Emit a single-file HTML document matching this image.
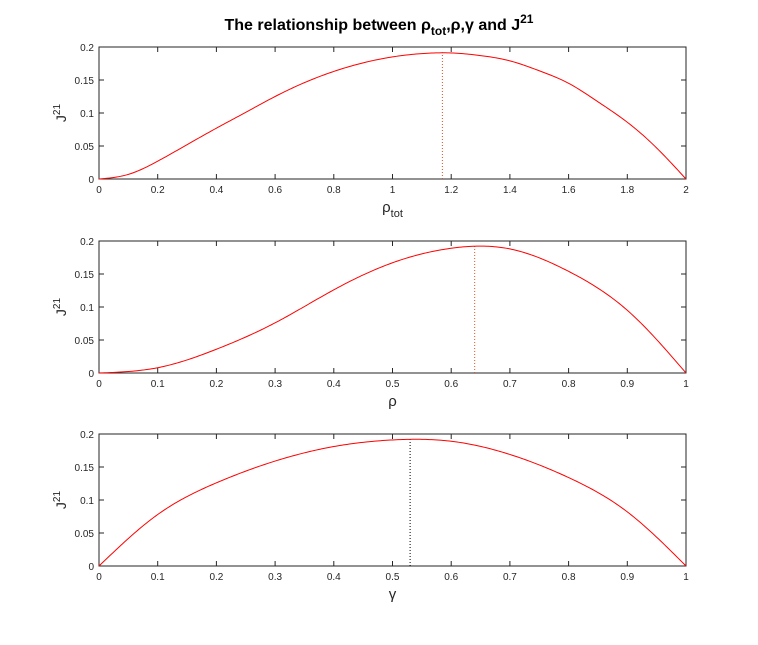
<!DOCTYPE html>
<html><head><meta charset="utf-8"><style>
body{margin:0;background:#fff;}
svg{display:block;font-family:"Liberation Sans",sans-serif;}
</style></head><body>
<svg id="chart" width="758" height="645">
<rect width="758" height="645" fill="#fff"/>
<text x="379" y="30" text-anchor="middle" font-size="16" font-weight="bold">The relationship between ρ<tspan font-size="12" dy="5">tot</tspan><tspan dy="-5">,ρ,γ and J</tspan><tspan font-size="12" dy="-7">21</tspan></text>
</svg>
<script>
const x1 = [0,0.1,0.2,0.3,0.4,0.5,0.6,0.7,0.8,0.9,1.0,1.1,1.2,1.3,1.4,1.5,1.6,1.7,1.8,1.9,2.0];
const y1 = [0,0.007,0.027,0.052,0.077,0.101,0.125,0.146,0.163,0.176,0.185,0.190,0.191,0.187,0.179,0.164,0.145,0.117,0.086,0.047,0];
const x2 = [0,0.1,0.2,0.3,0.4,0.5,0.6,0.7,0.8,0.9,1.0];
const y2 = [0,0.008,0.036,0.076,0.126,0.167,0.189,0.188,0.154,0.095,0];
const x3 = [0,0.1,0.2,0.3,0.4,0.5,0.6,0.7,0.8,0.9,1.0];
const y3 = [0,0.078,0.126,0.159,0.181,0.191,0.189,0.169,0.134,0.082,0];
const peaks = [1.17,0.64,0.53];
const peakVals = [0.192,0.192,0.192];
const yTicks = [0,0.05,0.1,0.15,0.2];
const xTicks1 = [0,0.2,0.4,0.6,0.8,1,1.2,1.4,1.6,1.8,2];
const xTicks2 = [0,0.1,0.2,0.3,0.4,0.5,0.6,0.7,0.8,0.9,1];

const svg = document.getElementById('chart');
const NS = 'http://www.w3.org/2000/svg';
function mk(tag, attrs, parent){const e=document.createElementNS(NS,tag);for(const k in attrs)e.setAttribute(k,attrs[k]);(parent||svg).appendChild(e);return e;}

// natural cubic spline evaluated densely
function spline(xs, ys){
  const n=xs.length, h=[], a=new Array(n).fill(0), b=new Array(n).fill(0), c=new Array(n).fill(0), r=new Array(n).fill(0), M=new Array(n).fill(0);
  for(let i=0;i<n-1;i++) h.push(xs[i+1]-xs[i]);
  for(let i=1;i<n-1;i++){a[i]=h[i-1];b[i]=2*(h[i-1]+h[i]);c[i]=h[i];r[i]=6*((ys[i+1]-ys[i])/h[i]-(ys[i]-ys[i-1])/h[i-1]);}
  // Thomas
  const cp=new Array(n).fill(0), rp=new Array(n).fill(0);
  for(let i=1;i<n-1;i++){const den=b[i]-a[i]*cp[i-1];cp[i]=c[i]/den;rp[i]=(r[i]-a[i]*rp[i-1])/den;}
  for(let i=n-2;i>=1;i--) M[i]=rp[i]-cp[i]*M[i+1];
  return x=>{
    let i=0; while(i<n-2 && x>xs[i+1]) i++;
    const t=x-xs[i], u=xs[i+1]-x, hi=h[i];
    return M[i]*u*u*u/(6*hi)+M[i+1]*t*t*t/(6*hi)+(ys[i]/hi-M[i]*hi/6)*u+(ys[i+1]/hi-M[i+1]*hi/6)*t;
  };
}

const panels = [
 {xs:x1, ys:y1, xmax:2, ticks:xTicks1, top:47, label:'ρ', sub:'tot', name:'rho-tot', peakColor:'#e05020'},
 {xs:x2, ys:y2, xmax:1, ticks:xTicks2, top:241, label:'ρ', sub:'', name:'rho', peakColor:'#e05020'},
 {xs:x3, ys:y3, xmax:1, ticks:xTicks2, top:434, label:'γ', sub:'', name:'gamma', peakColor:'#000'}
];
const L=99, R=686, H=132;
panels.forEach((p,i)=>{
  const g = mk('g',{});
  
  
  const bottom = p.top+H;
  const sx = v => L + v/p.xmax*(R-L);
  const sy = v => bottom - v/0.2*H;
  mk('rect',{x:L,y:p.top,width:R-L,height:H,fill:'#fff',stroke:'#262626','stroke-width':1},g);
  yTicks.forEach(t=>{
    const y=sy(t);
    mk('line',{x1:L,x2:L+5,y1:y,y2:y,stroke:'#262626'},g);
    mk('line',{x1:R,x2:R-5,y1:y,y2:y,stroke:'#262626'},g);
    const tx=mk('text',{x:L-5,y:y+4,'text-anchor':'end','font-size':10,fill:'#262626'},g);
    tx.textContent=t;
    
    
  });
  p.ticks.forEach(t=>{
    const x=sx(t);
    mk('line',{x1:x,x2:x,y1:bottom,y2:bottom-5,stroke:'#262626'},g);
    mk('line',{x1:x,x2:x,y1:p.top,y2:p.top+5,stroke:'#262626'},g);
    const tx=mk('text',{x:x,y:bottom+14,'text-anchor':'middle','font-size':10,fill:'#262626'},g);
    tx.textContent=t;
    
    
  });
  const yl=mk('text',{transform:`translate(${L-33},${p.top+H/2}) rotate(-90)`,'text-anchor':'middle','font-size':14,fill:'#262626'},g);
  yl.innerHTML='J<tspan font-size="10" dy="-6">21</tspan>';
  
  
  const xl=mk('text',{x:(L+R)/2,y:bottom+33,'text-anchor':'middle','font-size':15,fill:'#262626'},g);
  xl.innerHTML=p.sub? p.label+'<tspan font-size="11" dy="5">'+p.sub+'</tspan>' : p.label;
  
  
  const f=spline(p.xs,p.ys);
  const N=300; let d='';
  for(let k=0;k<=N;k++){const xv=p.xs[0]+(p.xs[p.xs.length-1]-p.xs[0])*k/N;d+=(k?'L':'M')+sx(xv).toFixed(2)+','+sy(Math.max(0,f(xv))).toFixed(2);}
  const vl=mk('line',{x1:sx(peaks[i]),x2:sx(peaks[i]),y1:bottom,y2:sy(peakVals[i]),stroke:p.peakColor,'stroke-dasharray':'1,2','stroke-width':1},g);
  
  
  const path=mk('path',{d:d,fill:'none',stroke:'#ff0000','stroke-width':1},g);
  
  
});
</script>
</body></html>
